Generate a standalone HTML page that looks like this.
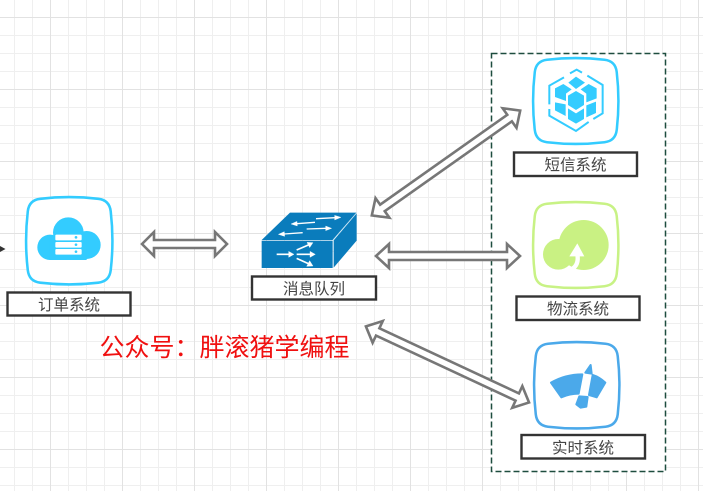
<!DOCTYPE html>
<html><head><meta charset="utf-8"><style>
html,body{margin:0;padding:0;background:#fff}
svg{display:block;filter:blur(.3px)}
text{font-family:"Liberation Sans","Noto Sans CJK SC",sans-serif}
</style></head><body>
<svg xmlns="http://www.w3.org/2000/svg" width="703" height="491" viewBox="0 0 703 491">
<defs>
<pattern id="g" width="72" height="72" patternUnits="userSpaceOnUse" x="50" y="17">
<path d="M18.500 0V72M36.500 0V72M54.500 0V72M0 18.500H72M0 36.500H72M0 54.500H72" stroke="#efefef" stroke-width="1" fill="none"/>
<path d="M.5 0V72M0 .5H72" stroke="#e2e2e2" stroke-width="1" fill="none"/>
</pattern>
<path id="card" d="M16 1.500Q50 -2.500 84 1.500Q97 3 98.500 16Q102.500 50 98.500 84Q97 97 84 98.500Q50 102.500 16 98.500Q3 97 1.500 84Q-2.500 50 1.500 16Q3 3 16 1.500Z" fill="#fff" stroke-width="3"/>
</defs>
<rect width="703" height="491" fill="url(#g)"/>

<!-- dashed group -->
<rect x="491.500" y="53.500" width="174" height="418" fill="#fff" stroke="#1e4d3f" stroke-width="1.500" stroke-dasharray="6 3"/>

<!-- stub -->
<path d="M0 249H3" stroke="#333" stroke-width="1.200"/><path d="M0 246L5.500 249L0 252Z" fill="#333"/>

<!-- order card -->
<use href="#card" transform="translate(26.500 197.500) scale(.855 .865)" stroke="#33ccff"/>
<g transform="translate(0 180) scale(.3333)">
<g fill="#33ccff"><circle cx="205" cy="158" r="46"/><circle cx="150" cy="202" r="38"/><circle cx="260" cy="195" r="42"/><rect x="150" y="170" width="110" height="70"/></g>
<g fill="#fff"><rect x="166" y="164" width="79" height="17" rx="3"/><rect x="166" y="186" width="79" height="17" rx="3"/><rect x="166" y="207" width="79" height="17" rx="3"/></g>
<g fill="#33ccff"><circle cx="228" cy="172" r="4"/><circle cx="228" cy="194" r="4"/><circle cx="228" cy="215" r="4"/></g>
</g>

<!-- queue icon -->
<g transform="translate(240 190) scale(.3333)">
<path d="M65 150H278L350 68H150Z" fill="#0a7cbc"/>
<rect x="65" y="152" width="213" height="82" fill="#0a7cbc"/>
<path d="M281 151L350 70V152L281 233Z" fill="#0a7cbc"/>
<g stroke="#fff" fill="#fff">
<path d="M228 86L285 83" stroke-width="4"/><path d="M284 76L303 82L284 90Z"/>
<path d="M225 97L170 101" stroke-width="4"/><path d="M171 94L153 102L172 108Z"/>
<path d="M200 117L258 115" stroke-width="4"/><path d="M257 108L275 115L257 122Z"/>
<path d="M188 128L132 132" stroke-width="4"/><path d="M133 125L115 133L134 139Z"/>
<path d="M110 193H148" stroke-width="5"/><path d="M146 184L162 193L146 202Z"/>
<path d="M170 180L205 165" stroke-width="5"/><path d="M201 157L219 158L209 173Z"/>
<path d="M170 193H212" stroke-width="5"/><path d="M210 184L226 193L210 202Z"/>
<path d="M170 205L205 221" stroke-width="5"/><path d="M209 212L219 228L200 229Z"/>
</g>
<path d="M279 150L350 68" stroke="#bfe0f2" stroke-width="2"/>
</g>

<!-- SMS -->
<use href="#card" transform="translate(533.500 58.500) scale(.845 .85)" stroke="#33ccff"/>
<g transform="translate(490 45) scale(.3333)">
<g fill="none" stroke="#33ccff" stroke-width="6">
<path d="M240 85L260 74L276 83"/><path d="M292 92L338 120V205L310 222"/><path d="M296 231L258 258L178 212V192"/><path d="M178 178V122L222 97"/>
</g>
<g fill="#33ccff">
<path d="M258 138L282 152V180L258 195L234 180V152Z"/>
<path d="M258 95L285 113L258 132L235 113Z"/>
<path d="M195 130L220 117L245 133L228 146V168L195 156Z"/>
<path d="M195 172L227 178V213L195 196Z"/>
<path d="M234 190L258 205L282 190V222L258 236L234 222Z"/>
<path d="M289 181L318 170V204L289 217Z"/>
<path d="M272 133L296 117L320 130V160L289 172V146Z"/>
</g>
</g>

<!-- logistics -->
<use href="#card" transform="translate(533.500 202.500) scale(.845 .85)" stroke="#c8f285"/>
<g transform="translate(490 190) scale(.3333)">
<circle cx="281" cy="165" r="75" fill="#c9f183"/><circle cx="205" cy="193" r="46" fill="#c9f183"/>
<path d="M244 238Q268 226 262 192" fill="none" stroke="#fff" stroke-width="13"/>
<path d="M262 160L283 199H238Z" fill="#fff"/>
</g>

<!-- realtime -->
<use href="#card" transform="translate(534.500 342.500) scale(.845 .855)" stroke="#4ba9ea"/>
<g transform="translate(490 335) scale(.3333)" fill="#4ba9ea" stroke="#4ba9ea" stroke-width="6" stroke-linejoin="round">
<path d="M183 143Q225 118 277 118L266 176Q240 176 214 187Z"/>
<path d="M308 120Q328 126 346 143L320 187Q308 183 297 180Z"/>
<path d="M302 90L286 113L305 116Z"/>
<path d="M268 184L293 186L289 215L272 218L259 208Z"/>
</g>

<!-- arrows -->
<g fill="#fff" stroke="#777" stroke-width="2.600" stroke-linejoin="miter">
<polygon points="142,244 154,232 154,240 215,240 215,232 227,244 215,256 215,248 154,248 154,256"/>
<polygon points="376,256 389,244 389,252 507,252 507,244 520,256 507,268 507,260 389,260 389,268"/>
<g transform="translate(371 216) rotate(-35.250)"><polygon points="1,0 14,-12 14,-4 169.700,-4 169.700,-12 182.700,0 169.700,12 169.700,4 14,4 14,12"/></g>
<g transform="translate(365 326) rotate(25)"><polygon points="1,0 14,-12 14,-4 168,-4 168,-12 181,0 168,12 168,4 14,4 14,12"/></g>
</g>

<!-- labels -->
<g fill="#fff" stroke="#333" stroke-width="2.400">
<rect x="7.500" y="292.500" width="123" height="23"/>
<rect x="252" y="276.500" width="124" height="23"/>
<rect x="514" y="152.500" width="123" height="23.500"/>
<rect x="516.500" y="296.500" width="123" height="23.500"/>
<rect x="521.500" y="435" width="123.500" height="23.500"/>
</g>
<g font-size="15.500" fill="#444" text-anchor="middle">
<text x="69" y="310">订单系统</text>
<text x="314" y="294">消息队列</text>
<text x="575.500" y="170">短信系统</text>
<text x="578" y="314">物流系统</text>
<text x="583" y="453">实时系统</text>
</g>
<text x="99.500" y="356" font-size="25" fill="#f01010">公众号：胖滚猪学编程</text>
</svg>
</body></html>
